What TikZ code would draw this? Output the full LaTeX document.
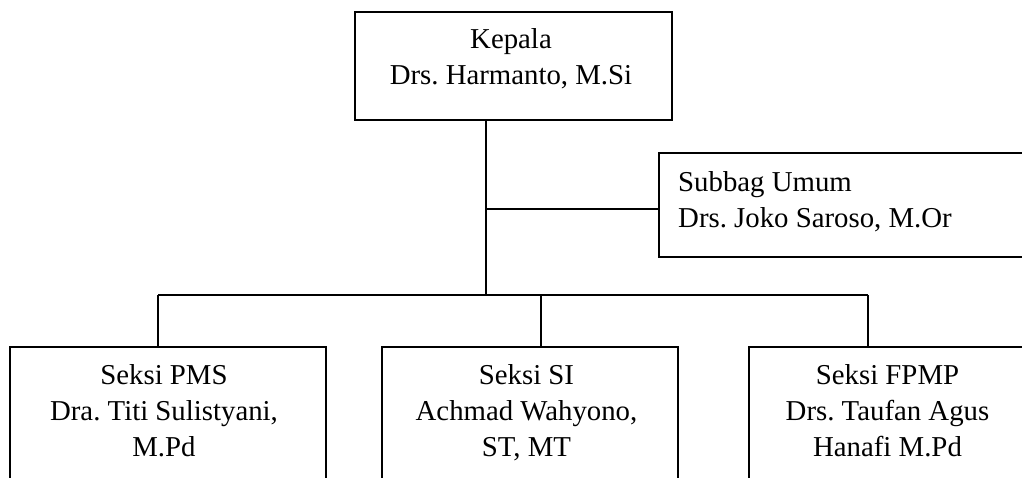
\documentclass[tikz,border=0pt]{standalone}
\usepackage{fontspec}
\setmainfont{Liberation Serif}
\frenchspacing
\begin{document}
\begin{tikzpicture}[x=1pt,y=-1pt,
  box/.style={draw,line width=1.6pt,rectangle,inner sep=0pt},
  lbl/.style={inner sep=0pt,anchor=north,align=center,font=\fontsize{28.8}{36}\selectfont},
  lbll/.style={inner sep=0pt,anchor=north west,align=left,font=\fontsize{28.8}{36}\selectfont},
  conn/.style={line width=1.6pt}]
\clip (0,0) rectangle (1022,478);
% boxes
\node[box,minimum width=317pt,minimum height=108pt] (kepala) at (513.5,66) {};
\node[box,minimum width=400pt,minimum height=104pt] (subbag) at (859,205) {};
\node[box,minimum width=316pt,minimum height=180pt] (pms) at (168,437) {};
\node[box,minimum width=296pt,minimum height=180pt] (si) at (530,437) {};
\node[box,minimum width=291pt,minimum height=180pt] (fpmp) at (894.5,437) {};
% texts
\node[lbl] (tkepala) at (511,22.8) {\strut Kepala\\\strut Drs. Harmanto, M.Si};
\node[lbll] (tsubbag) at (678,165.8) {\strut Subbag Umum\\\strut Drs. Joko Saroso, M.Or};
\node[lbl] (tpms) at (164,358.8) {\strut Seksi PMS\\\strut Dra. Titi Sulistyani,\\\strut M.Pd};
\node[lbl] (tsi) at (526.5,358.8) {\strut Seksi SI\\\strut Achmad Wahyono,\\\strut ST, MT};
\node[lbl] (tfpmp) at (887.5,358.8) {\strut Seksi FPMP\\\strut Drs. Taufan Agus\\\strut Hanafi M.Pd};
% connectors
\coordinate (hub) at (486,209);
\coordinate (trunk) at (486,295);
\coordinate (busL) at (158,295);
\coordinate (busM) at (541,295);
\coordinate (busR) at (868,295);
\draw[conn] (kepala.south -| trunk) -- (trunk);
\draw[conn] (hub) -- (hub -| subbag.west);
\draw[conn] (busL) -- (busR);
\draw[conn] (busL) -- (busL |- pms.north);
\draw[conn] (busM) -- (busM |- si.north);
\draw[conn] (busR) -- (busR |- fpmp.north);
\end{tikzpicture}
\end{document}
